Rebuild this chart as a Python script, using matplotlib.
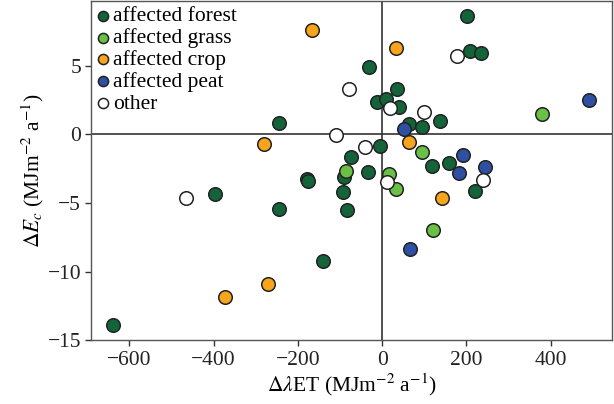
import matplotlib
matplotlib.use("Agg")
import matplotlib.pyplot as plt

plt.rcParams['font.family'] = ['Liberation Serif', 'DejaVu Serif']
plt.rcParams['mathtext.fontset'] = 'stix'

# affected forest
forest_x = [201.7, 209.6, 234.9, -31.3, 35.0, -11.5, 9.0, 39.0, -245.0, 62.7, 93.5, 137.7,
            -5.2, -74.7, 117.2, 159.0, -89.7, -32.9, -178.0, -176.0, -92.9, 221.5,
            -397.8, -83.4, -246.0, -140.0, -638.6]
forest_y = [8.65, 6.1, 5.9, 4.93, 3.28, 2.36, 2.57, 1.99, 0.85, 0.77, 0.56, 0.99,
            -0.83, -1.63, -2.34, -2.12, -3.14, -2.75, -3.27, -3.38, -4.23, -4.11,
            -4.35, -5.54, -5.47, -9.22, -13.89]

# affected grass
grass_x = [379.5, 95.1, -86.5, 16.1, 32.7, 121.2]
grass_y = [1.48, -1.31, -2.68, -2.9, -4.01, -7.0]

# affected crop
crop_x = [-167.0, 32.7, -280.0, 64.3, 142.5, -272.0, -372.5]
crop_y = [7.6, 6.3, -0.7, -0.58, -4.65, -10.92, -11.84]

# affected peat
peat_x = [491.6, 52.4, 193.0, 244.4, 182.8, 65.1]
peat_y = [2.5, 0.39, -1.53, -2.36, -2.85, -8.32]

# other
other_x = [177.3, -77.9, 17.7, 99.0, -109.5, -40.8, 11.4, 238.9, -465.0]
other_y = [5.71, 3.28, 1.92, 1.65, -0.03, -0.9, -3.46, -3.36, -4.67]

groups = [
    ("affected forest", forest_x, forest_y, "#14643a"),
    ("affected grass", grass_x, grass_y, "#6abf45"),
    ("affected crop", crop_x, crop_y, "#f8a51d"),
    ("affected peat", peat_x, peat_y, "#2f4fa2"),
    ("other", other_x, other_y, "white"),
]

fig = plt.figure(figsize=(6.14, 4.04), dpi=100)
ax = fig.add_axes([0.149, 0.158, 0.848, 0.8395])

ax.axhline(0, color="#333333", lw=1.2, zorder=1)
ax.axvline(0, color="#333333", lw=1.2, zorder=1)

for name, xs, ys, col in groups:
    ax.scatter(xs, ys, s=95, c=col, edgecolors="#222222", linewidths=1.1,
               label=name, zorder=3)

ax.set_xlim(-690, 546)
ax.set_ylim(-15, 9.72)
ax.set_xticks([-600, -400, -200, 0, 200, 400])
ax.set_yticks([-15, -10, -5, 0, 5])
ax.set_xticklabels(["\u2212600", "\u2212400", "\u2212200", "0", "200", "400"])
ax.set_yticklabels(["\u221215", "\u221210", "\u22125", "0", "5"])
ax.tick_params(direction="out", length=4, width=1, colors="#333333",
               labelsize=15.5, labelcolor="#222222")
for sp in ax.spines.values():
    sp.set_color("#555555")
    sp.set_linewidth(1.0)

ax.set_xlabel(r"$\Delta\lambda$ET (MJm$^{-2}$ a$^{-1}$)", fontsize=15.5, labelpad=1)
ax.set_ylabel(r"$\Delta E_c$ (MJm$^{-2}$ a$^{-1}$)", fontsize=15.5, labelpad=1)

leg = ax.legend(loc="upper left", frameon=False, fontsize=15.5, handletextpad=0.15,
                handlelength=0.6, borderaxespad=0.05, labelspacing=0.08,
                markerscale=0.75, borderpad=0.2)

fig.savefig("out.png", dpi=100)
